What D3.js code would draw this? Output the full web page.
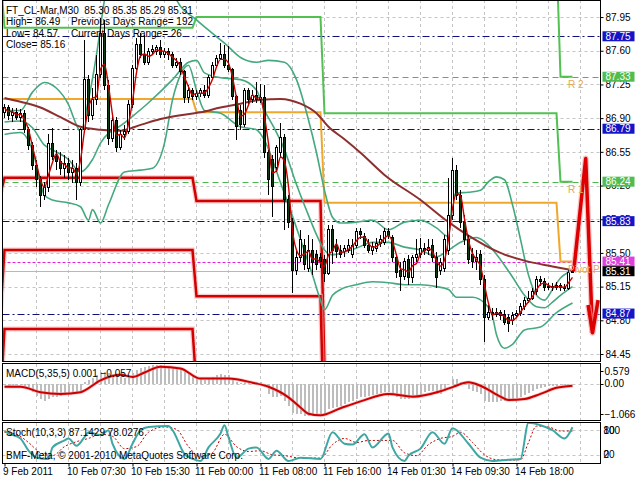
<!DOCTYPE html>
<html><head><meta charset="utf-8">
<script src="https://cdn.jsdelivr.net/npm/d3@7"></script>
<style>
body{margin:0;background:#fff;}
svg{display:block;font-family:"Liberation Sans",Arial,sans-serif;}
</style></head><body>
<svg id="c" width="640" height="480"></svg>
<script>
// ---------------- DATA ----------------
const symbolTitle = "FT_CL-Mar,M30  85.30 85.35 85.29 85.31";
const infoLeft = ["High= 86.49", "Low= 84.57", "Close= 85.16"];
const infoRight = ["Previous Days Range= 192", "Current Days Range= 26"];

const open = [86.96,87.01,86.93,86.96,86.91,86.95,86.78,86.62,86.41,86.26,
86.10,86.18,86.64,86.50,86.45,86.38,86.43,86.34,86.38,86.23,
86.78,87.30,86.93,87.09,87.35,87.78,87.24,86.69,86.88,86.59,
86.73,86.76,87.04,87.42,87.66,87.56,87.48,87.59,87.59,87.63,
87.56,87.59,87.56,87.45,87.48,87.38,87.11,87.19,87.12,87.16,
87.19,87.14,87.32,87.45,87.52,87.56,87.45,87.40,87.12,86.98,
86.83,87.19,87.09,87.14,87.09,87.11,86.54,86.47,86.39,86.54,
86.70,86.05,85.82,85.32,85.45,85.58,85.34,85.53,85.48,85.45,
85.43,85.29,85.74,85.58,85.53,85.51,85.53,85.48,85.58,85.72,
85.67,85.58,85.53,85.55,85.60,85.61,85.72,85.66,85.45,85.32,
85.26,85.43,85.24,85.45,85.48,85.55,85.53,85.58,85.45,85.32,
85.34,85.53,85.89,86.36,86.10,85.82,85.64,85.48,85.41,85.48,
85.22,84.83,84.88,84.86,84.88,84.86,84.83,84.80,84.85,84.87,
84.94,85.01,85.03,85.10,85.22,85.20,85.14,85.15,85.14,85.16,
85.14,85.13,85.30];
const high = [87.05,87.04,87.01,87.01,86.99,86.98,86.81,86.65,86.47,86.30,
86.24,86.73,86.80,86.57,86.55,86.52,86.49,86.47,86.43,86.80,
87.71,87.35,87.21,87.56,87.94,87.92,87.30,86.93,86.91,86.78,
86.83,87.09,87.45,87.73,87.78,87.76,87.63,87.66,87.66,87.71,
87.63,87.63,87.59,87.52,87.52,87.40,87.24,87.21,87.19,87.21,
87.24,87.35,87.48,87.56,87.68,87.66,87.65,87.42,87.14,87.04,
87.21,87.21,87.19,87.28,87.25,87.24,86.57,86.52,86.62,86.85,
86.73,86.10,85.86,85.53,85.74,85.64,85.69,85.64,85.53,85.50,
85.48,85.79,85.79,85.64,85.58,85.58,85.64,85.64,85.76,85.76,
85.71,85.64,85.61,85.66,85.69,85.76,85.76,85.69,85.48,85.41,
85.45,85.48,85.48,85.64,85.66,85.60,85.64,85.64,85.51,85.45,
85.69,86.28,86.49,86.41,86.15,85.89,85.69,85.55,85.53,85.53,
85.27,84.96,84.93,84.93,84.91,84.91,84.86,84.89,84.91,84.98,
85.04,85.10,85.14,85.26,85.26,85.24,85.19,85.19,85.20,85.19,
85.18,85.32,85.35];
const low = [86.90,86.88,86.86,86.88,86.86,86.75,86.57,86.36,86.18,85.98,
86.05,86.13,86.47,86.36,86.31,86.28,86.26,86.23,86.05,86.20,
86.75,86.86,86.88,87.04,87.32,87.19,86.62,86.65,86.55,86.57,
86.67,86.73,87.01,87.40,87.52,87.45,87.45,87.56,87.56,87.52,
87.52,87.50,87.42,87.42,87.35,87.06,87.06,87.09,87.09,87.12,
87.11,87.11,87.30,87.42,87.50,87.42,87.38,87.09,86.67,86.78,
86.81,87.04,87.06,87.06,87.06,86.49,86.10,85.87,86.34,86.49,
85.74,85.76,85.08,85.27,85.41,85.32,85.30,85.27,85.32,85.34,
85.20,85.27,85.38,85.45,85.45,85.46,85.50,85.45,85.55,85.64,
85.55,85.50,85.48,85.51,85.56,85.58,85.64,85.41,85.24,85.10,
85.22,85.17,85.19,85.41,85.45,85.48,85.48,85.41,85.14,85.27,
85.30,85.48,85.84,86.05,85.76,85.58,85.38,85.34,85.32,85.17,
84.57,84.80,84.80,84.83,84.80,84.75,84.68,84.75,84.83,84.84,
84.91,84.98,85.01,85.06,85.16,85.10,85.12,85.10,85.12,85.10,
85.10,85.11,85.29];
const close = [87.01,86.93,86.96,86.91,86.95,86.78,86.62,86.41,86.26,86.10,
86.18,86.64,86.50,86.45,86.38,86.43,86.34,86.38,86.23,86.78,
87.30,86.93,87.09,87.35,87.78,87.24,86.69,86.88,86.59,86.73,
86.76,87.04,87.42,87.66,87.56,87.48,87.59,87.61,87.63,87.56,
87.59,87.56,87.45,87.48,87.38,87.11,87.19,87.12,87.16,87.19,
87.14,87.32,87.45,87.52,87.56,87.45,87.40,87.12,86.81,86.83,
87.19,87.09,87.14,87.09,87.11,86.54,86.26,86.19,86.60,86.70,
86.05,85.82,85.32,85.45,85.64,85.38,85.53,85.40,85.38,85.41,
85.29,85.74,85.53,85.51,85.48,85.55,85.58,85.58,85.72,85.69,
85.58,85.53,85.57,85.60,85.64,85.72,85.68,85.45,85.30,85.26,
85.41,85.24,85.45,85.48,85.55,85.53,85.56,85.45,85.24,85.40,
85.64,85.89,86.36,86.10,85.82,85.64,85.43,85.41,85.45,85.22,
84.83,84.88,84.86,84.88,84.85,84.78,84.77,84.85,84.87,84.94,
85.01,85.03,85.10,85.22,85.20,85.14,85.15,85.14,85.16,85.14,
85.13,85.30,85.31];

// slow moving average (brown), read at sampled bars
const slowMaIdx = [0,4,9,14,19,24,29,34,39,44,49,54,59,64,69,74,78,81,85,89,95,104,111,116,124,130,137,142];
const slowMaVal = [87.11,87.07,87.01,86.91,86.81,86.78,86.77,86.83,86.89,86.93,86.96,87.01,87.05,87.09,87.10,87.05,86.95,86.81,86.68,86.54,86.31,86.05,85.82,85.68,85.50,85.42,85.36,85.32];

// bands (teal)
const upIdx = [0,4,7,10,13,16,18,19,21,23,25,27,40,43,48,52,55,59,63,66,70,73,76,78,80,82,84,88,92,96,100,104,108,111,112,113,116,119,121,123,125,127,129,131,133,135,137,139,141,142];
const upVal = [86.98,86.98,87.17,87.27,87.21,87.04,86.83,86.76,87.09,87.56,88.13,88.54,88.54,88.13,87.92,87.78,87.68,87.53,87.48,87.50,87.48,87.30,86.88,86.54,86.15,85.87,85.81,85.82,85.84,85.74,85.82,85.84,85.76,85.67,86.05,86.12,86.13,86.15,86.24,86.29,86.26,86.00,85.64,85.27,85.06,85.01,85.12,85.24,85.30,85.32];
const midIdx = [0,4,7,10,12,16,19,22,24,30,36,42,46,48,50,54,59,63,65,67,70,73,76,78,80,82,85,88,92,96,100,104,108,111,114,118,121,124,127,130,133,135,137,139,142];
const midVal = [86.86,86.87,86.80,86.62,86.57,86.47,86.34,86.47,86.64,86.85,87.06,87.30,87.48,87.50,87.37,87.32,87.30,87.19,86.98,86.83,86.57,86.21,85.89,85.69,85.53,85.48,85.51,85.55,85.61,85.61,85.56,85.53,85.46,85.53,85.61,85.66,85.58,85.43,85.25,85.06,84.94,84.93,84.99,85.06,85.15];
const lowIdx = [0,4,7,10,12,16,19,21,22,24,26,30,34,37,40,42,44,46,48,50,54,59,63,65,69,74,77,79,80,82,84,88,92,96,100,104,108,111,113,117,120,122,123,125,127,130,134,138,142];
const lowVal = [86.73,86.75,86.57,86.10,86.05,86.02,85.98,85.84,85.95,85.81,86.00,86.34,86.36,86.38,86.64,87.09,87.35,87.45,87.19,86.98,86.95,86.81,86.78,86.67,86.23,85.64,85.27,85.01,84.91,85.06,85.12,85.17,85.20,85.19,85.17,85.17,85.15,85.12,85.04,85.04,84.98,84.84,84.65,84.51,84.55,84.70,84.73,84.88,84.98];

// daily pivot levels (segment start bar, levels)
const pivotStart = [-1, 0, 48, 80, 139];
const pivR2 = [88.60, 88.60, 88.90, 88.60, 87.33];
const pivR1 = [88.40, 87.84, 87.95, 86.95, 86.24];
const pivP  = [87.10, 87.10, 86.96, 86.02, 85.41];
const pivS1 = [86.12, 86.28, 86.04, 84.30, 84.32];
const pivS2 = [84.88, 85.53, 85.05, 83.40, 83.49];
const pivS3 = [84.00, 84.71, 84.10, 82.60, 82.50];

// horizontal levels
const rangeLevels = [87.75, 86.79, 85.83, 84.87];
const resistLevels = [87.33, 86.24];
const pivotLevel = 85.41;
const bidLevel = 85.31;
const levelLabels = [
  {v:87.75,c:"#1414c8"},{v:87.33,c:"#50bd50"},{v:86.79,c:"#1414c8"},{v:86.24,c:"#50bd50"},
  {v:85.83,c:"#1414c8"},{v:85.41,c:"#e040e0"},{v:85.31,c:"#000000"},{v:84.87,c:"#1414c8"}];

// forecast zigzag
const zigIdx = [142.3, 145.3, 147.0];
const zigVal = [85.31, 86.48, 84.67];
const arrowIdx = [145.9, 147.0, 148.4];
const arrowVal = [84.96, 84.67, 85.01];

// axes
const priceTicks = [87.95,87.60,87.25,86.90,86.55,86.20,85.85,85.50,85.15,84.80,84.45];
const timeIdx = [0,16,32,48,64,80,96,112,128];
const timeLabels = ["9 Feb 2011","10 Feb 07:30","10 Feb 15:30","11 Feb 00:00","11 Feb 08:00","11 Feb 16:00","14 Feb 01:30","14 Feb 09:30","14 Feb 18:00"];

// MACD(5,35,5)
const macdMain = [-0.05,-0.06,-0.05,-0.04,-0.05,-0.08,-0.15,-0.25,-0.35,-0.45,
-0.50,-0.45,-0.40,-0.38,-0.35,-0.33,-0.30,-0.28,-0.30,-0.20,
0.05,0.12,0.18,0.25,0.35,0.35,0.30,0.28,0.22,0.20,
0.18,0.22,0.30,0.40,0.45,0.50,0.52,0.55,0.55,0.55,
0.53,0.52,0.50,0.47,0.42,0.35,0.30,0.25,0.20,0.15,
0.12,0.15,0.20,0.25,0.28,0.27,0.25,0.15,0.05,0.02,
0.05,0.05,0.05,0.05,0.05,-0.10,-0.30,-0.40,-0.40,-0.35,
-0.50,-0.65,-0.85,-0.90,-0.90,-0.95,-0.95,-0.95,-0.90,-0.90,
-0.90,-0.75,-0.70,-0.68,-0.65,-0.60,-0.55,-0.52,-0.45,-0.40,
-0.38,-0.36,-0.33,-0.30,-0.28,-0.25,-0.25,-0.30,-0.40,-0.45,
-0.45,-0.45,-0.40,-0.35,-0.30,-0.25,-0.22,-0.22,-0.30,-0.30,
-0.20,0.00,0.15,0.15,0.05,-0.05,-0.15,-0.20,-0.25,-0.30,
-0.50,-0.55,-0.55,-0.55,-0.52,-0.50,-0.50,-0.45,-0.42,-0.38,
-0.33,-0.28,-0.22,-0.15,-0.12,-0.10,-0.08,-0.07,-0.06,-0.05,
-0.05,-0.02,0.001];
const macdSigIdx = [0,4,9,14,19,24,29,32,35,39,44,49,56,62,66,71,74,76,79,84,89,96,102,109,112,116,119,124,126,130,134,138,142];
const macdSigVal = [-0.09,-0.09,-0.25,-0.30,-0.25,0.10,0.26,0.20,0.33,0.50,0.45,0.15,0.15,0.03,-0.09,-0.40,-0.70,-0.88,-0.93,-0.72,-0.52,-0.30,-0.38,-0.22,-0.10,0.04,-0.06,-0.38,-0.48,-0.45,-0.30,-0.12,-0.057];
const macdTicks = [0.579, 0.00, -1.066];

// Stoch(10,3,3)
const stochIdx = [0,1,4,6,8,11,12,15,16,18,20,21,24,26,27,30,32,34,36,41,42,45,47,49,51,54,55,56,58,61,63,66,68,71,74,79,82,85,87,90,92,96,97,100,101,104,107,110,112,116,119,122,126,129,131,134,137,140,142];
const stochMain = [78,72,60,30,13,10,38,55,60,42,63,75,68,80,47,10,47,80,88,90,80,22,10,5,38,72,92,63,13,35,38,10,30,5,13,10,75,47,45,70,38,72,38,5,18,35,75,47,85,47,13,5,8,10,98,92,80,60,87.1429];
const stochSigIdx = [0,3,6,9,12,15,18,21,24,27,30,33,36,40,43,46,49,52,55,58,61,64,67,70,74,79,82,85,88,91,94,97,100,103,106,109,112,114,117,120,123,126,129,131,133,136,139,142];
const stochSigVal = [75,70,50,25,18,40,52,60,70,65,35,40,75,88,82,40,15,25,70,40,28,30,20,18,12,12,45,60,50,55,55,55,25,18,45,60,65,75,50,20,8,7,8,50,90,88,78,78.0276];
const stochLevels = [80, 20];

// ---------------- DRAW ----------------
const svg = d3.select("#c");
const N = close.length;
const xs = d3.scaleLinear().domain([0, 1]).range([4.5, 8.5]);
const ys = d3.scaleLinear().domain([84.367, 88.127]).range([362, 0]);
const ym = d3.scaleLinear().domain([-1.066, 0.579]).range([420, 364]);
const yst = d3.scaleLinear().domain([0, 100]).range([463, 422]);
const L = 2.5, R = 600.5;

const defs = svg.append("defs");
defs.append("clipPath").attr("id","cm").append("rect").attr("x",L+0.5).attr("y",1).attr("width",R-L-1).attr("height",360);
defs.append("clipPath").attr("id","cd").append("rect").attr("x",L+0.5).attr("y",364).attr("width",R-L-1).attr("height",56);
defs.append("clipPath").attr("id","cs").append("rect").attr("x",L+0.5).attr("y",423).attr("width",R-L-1).attr("height",40);

const gridIdx = d3.range(8, 146, 8);
const grid = "#c4c4c4";

// ---- main panel
const gm = svg.append("g").attr("clip-path","url(#cm)");
gm.selectAll(".vg").data(gridIdx).join("line")
  .attr("x1",d=>xs(d)).attr("x2",d=>xs(d)).attr("y1",0).attr("y2",362)
  .attr("stroke",grid).attr("stroke-dasharray","3,3");
gm.selectAll(".hg").data(priceTicks).join("line")
  .attr("x1",L).attr("x2",R).attr("y1",d=>Math.round(ys(d))+0.5).attr("y2",d=>Math.round(ys(d))+0.5)
  .attr("stroke",grid).attr("stroke-dasharray","3,3");

// level lines
const hl = (v,col,dash,w)=>gm.append("line").attr("x1",L).attr("x2",R)
  .attr("y1",Math.round(ys(v))+0.5).attr("y2",Math.round(ys(v))+0.5)
  .attr("stroke",col).attr("stroke-width",w||1).attr("stroke-dasharray",dash);
hl(bidLevel,"#b8b8b8",null);
rangeLevels.forEach(v=>hl(v,"#10107a","7,3,2,3"));
resistLevels.forEach(v=>hl(v,"#4cb84c","6,4"));
hl(pivotLevel,"#e020e0","3,2");

// pivot step lines
function steps(vals){ const out=[]; for(let i=-1;i<N;i++){ const s=d3.bisectRight(pivotStart,i)-1; out.push([i,vals[s]]);} return out; }
const ln = d3.line().x(d=>xs(d[0])).y(d=>ys(d[1]));
[pivS1,pivS2,pivS3].forEach(v=>{
  gm.append("path").attr("d",ln(steps(v))).attr("fill","none").attr("stroke","#f6a8a8").attr("stroke-width",5).attr("opacity",0.6);
  gm.append("path").attr("d",ln(steps(v))).attr("fill","none").attr("stroke","#d20000").attr("stroke-width",2.5);
});
[pivR1,pivR2].forEach(v=>gm.append("path").attr("d",ln(steps(v))).attr("fill","none").attr("stroke","#52c152").attr("stroke-width",2));
gm.append("path").attr("d",ln(steps(pivP))).attr("fill","none").attr("stroke","#f0a82c").attr("stroke-width",2);

// bands
const curve = d3.line().x(d=>xs(d[0])).y(d=>ys(d[1])).curve(d3.curveMonotoneX);
[[upIdx,upVal],[midIdx,midVal],[lowIdx,lowVal]].forEach(([ix,vv])=>{
  gm.append("path").attr("d",curve(ix.map((d,k)=>[d,vv[k]]))).attr("fill","none").attr("stroke","#45a97f").attr("stroke-width",1.6);
});
// slow MA
gm.append("path").attr("d",curve(slowMaIdx.map((d,k)=>[d,slowMaVal[k]]))).attr("fill","none").attr("stroke","#8e2f2f").attr("stroke-width",2);

// candles
const gc = gm.append("g").attr("shape-rendering","crispEdges");
d3.range(N).forEach(i=>{
  gc.append("line").attr("x1",xs(i)).attr("x2",xs(i)).attr("y1",ys(high[i])).attr("y2",ys(low[i])).attr("stroke","#000");
  const top = ys(Math.max(open[i],close[i])), bot = ys(Math.min(open[i],close[i]));
  const bull = close[i] >= open[i];
  gc.append("rect").attr("x",xs(i)-1).attr("y",top).attr("width",2).attr("height",Math.max(bot-top,0.5))
    .attr("fill",bull?"#fff":"#0e3b12").attr("stroke","#000").attr("stroke-width",1);
});
// fast MA derived from closes
const fastMA = close.map((c,i)=>[i, d3.mean(close.slice(Math.max(0,i-2), i+1))]);
gm.append("path").attr("d",curve(fastMA)).attr("fill","none").attr("stroke","#c80000").attr("stroke-width",1.4);

// forecast zigzag
const zz = zigIdx.map((d,k)=>[d,zigVal[k]]), ah = arrowIdx.map((d,k)=>[d,arrowVal[k]]);
[zz,ah].forEach(p=>{
  gm.append("path").attr("d",ln(p)).attr("fill","none").attr("stroke","#f4a0a0").attr("stroke-width",6).attr("opacity",0.6).attr("stroke-linejoin","round");
  gm.append("path").attr("d",ln(p)).attr("fill","none").attr("stroke","#dc0000").attr("stroke-width",3.5).attr("stroke-linejoin","round");
});

// pivot text labels
const lastSeg = pivotStart.length-1;
const pvText = [["R 2",pivR2[lastSeg]],["R 1",pivR1[lastSeg]],["Pivot Point",pivP[lastSeg]]];
gm.selectAll(".pt").data(pvText).join("text").attr("x",xs(140.9)).attr("y",d=>ys(d[1])+11.5)
  .attr("font-size",10).attr("fill","#e8a850").text(d=>d[0]);

// header texts
const ht = svg.append("g").attr("font-size",10).attr("fill","#000");
ht.append("text").attr("x",6).attr("y",14).text(symbolTitle).attr("xml:space","preserve");
infoLeft.forEach((t,k)=>ht.append("text").attr("x",6).attr("y",25+k*11.5).text(t));
infoRight.forEach((t,k)=>ht.append("text").attr("x",71).attr("y",25+k*11.5).text(t));

// right price axis
const ax = svg.append("g").attr("transform",`translate(${R},0)`)
  .call(d3.axisRight(ys).tickValues(priceTicks).tickSize(3).tickPadding(2).tickFormat(d3.format(".2f")));
ax.select(".domain").remove();
ax.selectAll("text").attr("font-size",10).attr("font-family","Liberation Sans, Arial, sans-serif").attr("fill","#000");
ax.selectAll("line").attr("stroke","#000");

// level labels
const ll = svg.append("g");
levelLabels.forEach(d=>{
  const y = ys(d.v);
  ll.append("rect").attr("x",R+2).attr("y",y-5).attr("width",32).attr("height",10).attr("fill",d.c);
  ll.append("text").attr("x",R+5).attr("y",y+3.5).attr("font-size",10).attr("fill","#fff").text(d3.format(".2f")(d.v));
});

// ---- MACD panel
const gd = svg.append("g").attr("clip-path","url(#cd)");
gd.selectAll(".vg").data(gridIdx).join("line").attr("x1",d=>xs(d)).attr("x2",d=>xs(d)).attr("y1",364).attr("y2",420)
  .attr("stroke",grid).attr("stroke-dasharray","3,3");
gd.append("line").attr("x1",L).attr("x2",R).attr("y1",Math.round(ym(0))+0.5).attr("y2",Math.round(ym(0))+0.5).attr("stroke",grid).attr("stroke-dasharray","3,3");
gd.append("g").attr("shape-rendering","crispEdges").selectAll("rect").data(macdMain).join("rect")
  .attr("x",(d,i)=>xs(i)-1).attr("width",2)
  .attr("y",d=>Math.min(ym(d),ym(0))).attr("height",d=>Math.abs(ym(d)-ym(0)))
  .attr("fill","#bdbdbd");
const ms = macdSigIdx.map((d,k)=>[d,macdSigVal[k]]);
const lnm = d3.line().x(d=>xs(d[0])).y(d=>ym(d[1])).curve(d3.curveMonotoneX);
gd.append("path").attr("d",lnm(ms)).attr("fill","none").attr("stroke","#f3a0a0").attr("stroke-width",3.5).attr("opacity",0.6);
gd.append("path").attr("d",lnm(ms)).attr("fill","none").attr("stroke","#cc0000").attr("stroke-width",2);
svg.append("text").attr("x",6).attr("y",377).attr("font-size",10)
  .text(`MACD(5,35,5) ${d3.format(".3f")(macdMain[N-1])} ${d3.format(".3f")(macdSigVal[macdSigVal.length-1])}`);
macdTicks.forEach(v=>{
  const y = Math.min(Math.max(ym(v),371),414);
  svg.append("text").attr("x",R+4).attr("y",y+3.5).attr("font-size",10).text(v===0?"0.00":d3.format(".3f")(v));
  svg.append("line").attr("x1",R).attr("x2",R+3).attr("y1",Math.round(y)+0.5).attr("y2",Math.round(y)+0.5).attr("stroke","#000");
});

// ---- Stoch panel
const gs = svg.append("g").attr("clip-path","url(#cs)");
gs.selectAll(".vg").data(gridIdx).join("line").attr("x1",d=>xs(d)).attr("x2",d=>xs(d)).attr("y1",423).attr("y2",463)
  .attr("stroke",grid).attr("stroke-dasharray","3,3");
gs.selectAll(".hl").data(stochLevels).join("line").attr("x1",L).attr("x2",R)
  .attr("y1",d=>Math.round(yst(d))+0.5).attr("y2",d=>Math.round(yst(d))+0.5).attr("stroke",grid).attr("stroke-dasharray","3,3");
const lns = d3.line().x(d=>xs(d[0])).y(d=>yst(d[1])).curve(d3.curveMonotoneX);
gs.append("path").attr("d",lns(stochSigIdx.map((d,k)=>[d,stochSigVal[k]]))).attr("fill","none").attr("stroke","#c00000").attr("stroke-width",1).attr("stroke-dasharray","2,2");
gs.append("path").attr("d",lns(stochIdx.map((d,k)=>[d,stochMain[k]]))).attr("fill","none").attr("stroke","#3fa7a3").attr("stroke-width",2);
svg.append("text").attr("x",6).attr("y",436).attr("font-size",10)
  .text(`Stoch(10,3,3) ${stochMain[stochMain.length-1].toFixed(4)} ${stochSigVal[stochSigVal.length-1].toFixed(4)}`);
svg.append("text").attr("x",6).attr("y",459).attr("font-size",10).text("BMF-Meta, \u00a9 2001-2010 MetaQuotes Software Corp.");
[[100,80],[0,20]].forEach(([a,b])=>{
  svg.append("text").attr("x",R+3).attr("y",yst(b)+3.5).attr("font-size",10).text(b);
  svg.append("text").attr("x",R+3).attr("y",yst(b)+3.5).attr("font-size",10).text(a);
});

// borders
[[0.5,361.5],[363.5,420.5],[422.5,463.5]].forEach(([a,b])=>{
  svg.append("rect").attr("x",L).attr("y",a).attr("width",R-L).attr("height",b-a).attr("fill","none").attr("stroke","#000");
});

// time axis
const tx = svg.append("g").attr("transform","translate(0,463.5)")
  .call(d3.axisBottom(xs).tickValues(timeIdx).tickSize(3).tickPadding(1).tickFormat((d,k)=>timeLabels[k]));
tx.select(".domain").remove();
tx.selectAll("text").attr("text-anchor","start").attr("dx",-2).attr("font-size",10).attr("font-family","Liberation Sans, Arial, sans-serif").attr("fill","#000");
tx.selectAll("line").attr("stroke","#000");
</script></body></html>
